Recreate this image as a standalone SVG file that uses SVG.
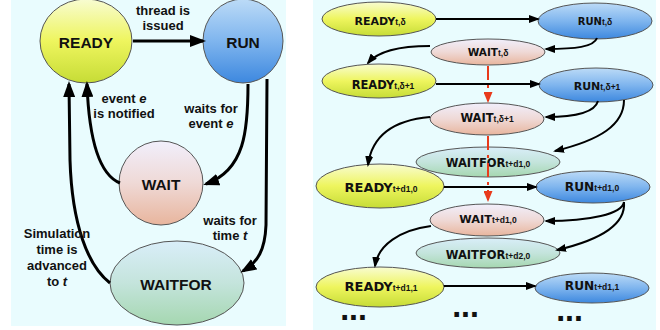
<svg xmlns="http://www.w3.org/2000/svg" width="660" height="330" viewBox="0 0 660 330">
<defs>
<linearGradient id="gReady" x1="0" y1="0" x2="0" y2="1">
<stop offset="0" stop-color="#f8fcd2"/><stop offset="0.5" stop-color="#eef55e"/><stop offset="1" stop-color="#c6dc36"/>
</linearGradient>
<linearGradient id="gRun" x1="0" y1="0" x2="0" y2="1">
<stop offset="0" stop-color="#bcdbf7"/><stop offset="0.5" stop-color="#7fb5ee"/><stop offset="1" stop-color="#3d88df"/>
</linearGradient>
<linearGradient id="gWait" x1="0" y1="0" x2="0" y2="1">
<stop offset="0" stop-color="#f1effc"/><stop offset="0.5" stop-color="#efd9d6"/><stop offset="1" stop-color="#e8b59d"/>
</linearGradient>
<linearGradient id="gWaitfor" x1="0" y1="0" x2="0" y2="1">
<stop offset="0" stop-color="#d9eef9"/><stop offset="0.5" stop-color="#c4e4dc"/><stop offset="1" stop-color="#a5d7b0"/>
</linearGradient>
<marker id="aBig" viewBox="0 0 16 12" refX="13" refY="6" markerWidth="16" markerHeight="12" markerUnits="userSpaceOnUse" orient="auto">
<path d="M0,0 L16,6 L0,12 z" fill="#000"/>
</marker>
<marker id="aSm" viewBox="0 0 11 8" refX="9" refY="4" markerWidth="11" markerHeight="8" markerUnits="userSpaceOnUse" orient="auto">
<path d="M0,0 L11,4 L0,8 z" fill="#000"/>
</marker>
<marker id="aRed" viewBox="0 0 11 9" refX="9" refY="4.5" markerWidth="11" markerHeight="9" markerUnits="userSpaceOnUse" orient="auto">
<path d="M0,0 L11,4.5 L0,9 z" fill="#e83a1c"/>
</marker>
</defs>
<style>
.bg{fill:#e9fcfe}
.node{stroke:#555;stroke-width:1}
.ready{fill:url(#gReady)}
.run{fill:url(#gRun)}
.wait{fill:url(#gWait)}
.waitfor{fill:url(#gWaitfor)}
.big{font-family:"Liberation Sans",Arial,sans-serif;font-weight:bold;font-size:15.5px;fill:#111;text-anchor:middle}
.lbl{font-family:"Liberation Sans",Arial,sans-serif;font-weight:bold;font-size:13px;fill:#111;text-anchor:middle}
.sm{font-family:"DejaVu Sans",Verdana,sans-serif;font-weight:bold;fill:#111;text-anchor:middle}
.sub{font-family:"Liberation Sans",Arial,sans-serif;font-weight:bold;font-size:8.5px}
.cl{fill:none;stroke:#000;stroke-width:3;marker-end:url(#aBig)}
.cs{fill:none;stroke:#000;stroke-width:2;marker-end:url(#aSm)}
.cr{fill:none;stroke:#e83a1c;stroke-width:2;stroke-dasharray:14 5 3 5;marker-end:url(#aRed)}
.dots{font-family:"DejaVu Sans",Verdana,sans-serif;font-weight:bold;font-size:26px;letter-spacing:-1px;fill:#111;text-anchor:middle}
</style>
<rect class="bg" x="11" y="0" width="275" height="326"/>
<rect class="bg" x="313" y="0" width="343" height="330"/>

<g id="left-READY"><ellipse class="node ready" cx="86" cy="41" rx="46" ry="42"/><text class="big" x="86" y="48">READY</text></g>
<g id="left-RUN"><ellipse class="node run" cx="243" cy="41" rx="40" ry="42"/><text class="big" x="243" y="48">RUN</text></g>
<g id="left-WAIT"><ellipse class="node wait" cx="161" cy="183" rx="42" ry="42"/><text class="big" x="161" y="190">WAIT</text></g>
<g id="left-WAITFOR"><ellipse class="node waitfor" cx="177" cy="283" rx="67" ry="42"/><text class="big" x="176" y="290">WAITFOR</text></g>

<g id="right-READY-t-d"><ellipse class="node ready" cx="379" cy="19" rx="57" ry="17"/><text class="sm" x="380" y="24.5" font-size="11">READY<tspan class="sub">t,δ</tspan></text></g>
<g id="right-RUN-t-d"><ellipse class="node run" cx="595" cy="21" rx="57" ry="18"/><text class="sm" x="595" y="25" font-size="10">RUN<tspan class="sub">t,δ</tspan></text></g>
<g id="right-WAIT-t-d"><ellipse class="node wait" cx="488" cy="52" rx="57" ry="13"/><text class="sm" x="488" y="55.5" font-size="10.5">WAIT<tspan class="sub">t,δ</tspan></text></g>
<g id="right-READY-t-d1"><ellipse class="node ready" cx="379" cy="81" rx="57" ry="17"/><text class="sm" x="383" y="88.5" font-size="11.5">READY<tspan class="sub">t,δ+1</tspan></text></g>
<g id="right-RUN-t-d1"><ellipse class="node run" cx="596" cy="85" rx="57" ry="17"/><text class="sm" x="597" y="89.5" font-size="11">RUN<tspan class="sub">t,δ+1</tspan></text></g>
<g id="right-WAIT-t-d1"><ellipse class="node wait" cx="487" cy="119" rx="57" ry="16"/><text class="sm" x="487" y="122" font-size="11.5">WAIT<tspan class="sub">t,δ+1</tspan></text></g>
<g id="right-WAITFOR-t-d1-0"><ellipse class="node waitfor" cx="488" cy="162" rx="72" ry="15"/><text class="sm" x="488" y="167" font-size="11.5">WAITFOR<tspan class="sub">t+d1,0</tspan></text></g>
<g id="right-READY-t-d1-0"><ellipse class="node ready" cx="380" cy="186" rx="64" ry="22"/><text class="sm" x="381" y="192" font-size="13">READY<tspan class="sub">t+d1,0</tspan></text></g>
<g id="right-RUN-t-d1-0"><ellipse class="node run" cx="593" cy="187" rx="57" ry="16"/><text class="sm" x="592" y="191" font-size="12.2">RUN<tspan class="sub">t+d1,0</tspan></text></g>
<g id="right-WAIT-t-d1-0"><ellipse class="node wait" cx="487" cy="220" rx="57" ry="16"/><text class="sm" x="488" y="223" font-size="11.3">WAIT<tspan class="sub">t+d1,0</tspan></text></g>
<g id="right-WAITFOR-t-d2-0"><ellipse class="node waitfor" cx="488" cy="253" rx="72" ry="15"/><text class="sm" x="488" y="259" font-size="11.5">WAITFOR<tspan class="sub">t+d2,0</tspan></text></g>
<g id="right-READY-t-d1-1"><ellipse class="node ready" cx="380" cy="287" rx="64" ry="20"/><text class="sm" x="381" y="291" font-size="13">READY<tspan class="sub">t+d1,1</tspan></text></g>
<g id="right-RUN-t-d1-1"><ellipse class="node run" cx="592" cy="288" rx="57" ry="15"/><text class="sm" x="592" y="290" font-size="12.2">RUN<tspan class="sub">t+d1,1</tspan></text></g>

<g id="connectors">
<path class="cl" d="M133,41 L203,41"/>
<path class="cl" d="M248,84 C248,130 245,170 206,184"/>
<path class="cl" d="M267,79 L266,225 C265,250 258,262 243,271"/>
<path class="cl" d="M120,183 C100,175 89,140 87,84"/>
<path class="cl" d="M110,283 C88,266 72,225 70,160 L69,84"/>

<path class="cs" d="M436,19 L538,19"/>
<path class="cs" d="M597,38 C594,47 575,49 546,49"/>
<path class="cs" d="M430,46 C400,46 378,51 368,63"/>
<path class="cr" d="M488,66 L488,101"/>
<path class="cs" d="M436,84 L539,84"/>
<path class="cs" d="M598,101 C595,112 575,117 546,117"/>
<path class="cs" d="M624,100 C624,125 600,140 555,151"/>
<path class="cs" d="M430,117 C395,120 372,135 368,165"/>
<path class="cr" d="M488,136 L488,200"/>
<path class="cs" d="M444,187 L536,187"/>
<path class="cs" d="M624,202 C622,214 590,221 546,221"/>
<path class="cs" d="M624,202 C626,225 600,240 557,250"/>
<path class="cs" d="M431,226 C400,230 378,245 375,266"/>
<path class="cs" d="M444,286 L535,286"/>
</g>

<g id="labels">
<text class="lbl" x="163" y="15">thread is</text>
<text class="lbl" x="163" y="30">issued</text>
<text class="lbl" x="124" y="103">event <tspan font-style="italic">e</tspan></text>
<text class="lbl" x="124" y="118">is notified</text>
<text class="lbl" x="211" y="113">waits for</text>
<text class="lbl" x="211" y="128">event <tspan font-style="italic">e</tspan></text>
<text class="lbl" x="230" y="225">waits for</text>
<text class="lbl" x="230" y="240">time <tspan font-style="italic">t</tspan></text>
<text class="lbl" x="57" y="238">Simulation</text>
<text class="lbl" x="57" y="254">time is</text>
<text class="lbl" x="57" y="270">advanced</text>
<text class="lbl" x="57" y="286">to <tspan font-style="italic">t</tspan></text>
<text class="dots" x="353" y="320">...</text>
<text class="dots" x="465" y="317">...</text>
<text class="dots" x="569" y="321">...</text>
</g>
</svg>
